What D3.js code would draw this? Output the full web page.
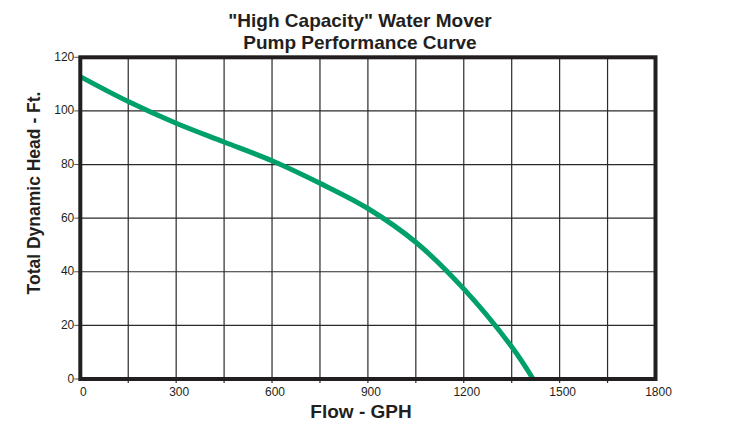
<!DOCTYPE html>
<html>
<head>
<meta charset="utf-8">
<script src="https://cdn.jsdelivr.net/npm/d3@7"></script>
<style>
  body { margin: 0; background: #fff; }
  text { font-family: "Liberation Sans", Arial, sans-serif; fill: #231f20; }
</style>
</head>
<body>
<div id="chart"></div>
<script>
// Pump curve
const flowGph = [0, 150, 300, 450, 600, 750, 900, 1050, 1200, 1350, 1417];
const headFt = [112.8, 103.5, 95.4, 88.4, 81.4, 73.0, 63.6, 51.0, 33.6, 12.0, 0];
const xTicks = [0, 300, 600, 900, 1200, 1500, 1800];
const yTicks = [0, 20, 40, 60, 80, 100, 120];
const titleLines = ["\"High Capacity\" Water Mover", "Pump Performance Curve"];

const width = 749;
const height = 428;
const plotLeft = 80.3, plotRight = 655.5, plotTop = 57.3, plotBottom = 379;

const svg = d3.select("#chart")
  .append("svg")
  .attr("width", width)
  .attr("height", height);

const x = d3.scaleLinear().domain([0, 1800]).range([plotLeft, plotRight]);
const y = d3.scaleLinear().domain([0, 120]).range([plotBottom, plotTop]);

// Title
svg.selectAll(".title")
  .data(titleLines)
  .enter()
  .append("text")
  .attr("class", "title")
  .attr("x", 360)
  .attr("y", (d, i) => 27 + i * 21.5)
  .attr("text-anchor", "middle")
  .attr("font-size", "19px")
  .attr("font-weight", "bold")
  .text(d => d);

// Grid
svg.append("g")
  .selectAll("line")
  .data(d3.range(150, 1800, 150))
  .enter()
  .append("line")
  .attr("x1", d => x(d)).attr("x2", d => x(d))
  .attr("y1", plotTop).attr("y2", plotBottom + 4)
  .attr("stroke", "#2a2a2a")
  .attr("stroke-width", 1.2);

svg.append("g")
  .selectAll("line")
  .data(yTicks.slice(1, -1))
  .enter()
  .append("line")
  .attr("x1", plotLeft).attr("x2", plotRight)
  .attr("y1", d => y(d)).attr("y2", d => y(d))
  .attr("stroke", "#2a2a2a")
  .attr("stroke-width", 1.2);

// Left tick marks
svg.append("g")
  .selectAll("line")
  .data(yTicks)
  .enter()
  .append("line")
  .attr("x1", plotLeft - 6).attr("x2", plotLeft)
  .attr("y1", d => y(d)).attr("y2", d => y(d))
  .attr("stroke", "#555")
  .attr("stroke-width", 1);

// Tick labels
svg.append("g")
  .selectAll("text")
  .data(yTicks)
  .enter()
  .append("text")
  .attr("x", plotLeft - 6)
  .attr("y", d => y(d) + 3.5)
  .attr("text-anchor", "end")
  .attr("font-size", "12px")
  .text(d => d);

svg.append("g")
  .selectAll("text")
  .data(xTicks)
  .enter()
  .append("text")
  .attr("x", d => x(d) + 3)
  .attr("y", 396)
  .attr("text-anchor", "middle")
  .attr("font-size", "12px")
  .text(d => d);

// Curve
const line = d3.line()
  .x((d, i) => x(flowGph[i]))
  .y(d => y(d))
  .curve(d3.curveCatmullRom.alpha(0.5));

svg.append("path")
  .attr("d", line(headFt))
  .attr("fill", "none")
  .attr("stroke", "#00a06b")
  .attr("stroke-width", 5);

// Frame
svg.append("rect")
  .attr("x", plotLeft).attr("y", plotTop)
  .attr("width", plotRight - plotLeft).attr("height", plotBottom - plotTop)
  .attr("fill", "none")
  .attr("stroke", "#231f20")
  .attr("stroke-width", 4);

// Axis titles
svg.append("text")
  .attr("x", 361)
  .attr("y", 418)
  .attr("text-anchor", "middle")
  .attr("font-size", "19px")
  .attr("font-weight", "bold")
  .text("Flow - GPH");

svg.append("text")
  .attr("transform", "translate(40, 193) rotate(-90)")
  .attr("text-anchor", "middle")
  .attr("font-size", "17.5px")
  .attr("font-weight", "bold")
  .text("Total Dynamic Head - Ft.");
</script>
</body>
</html>
